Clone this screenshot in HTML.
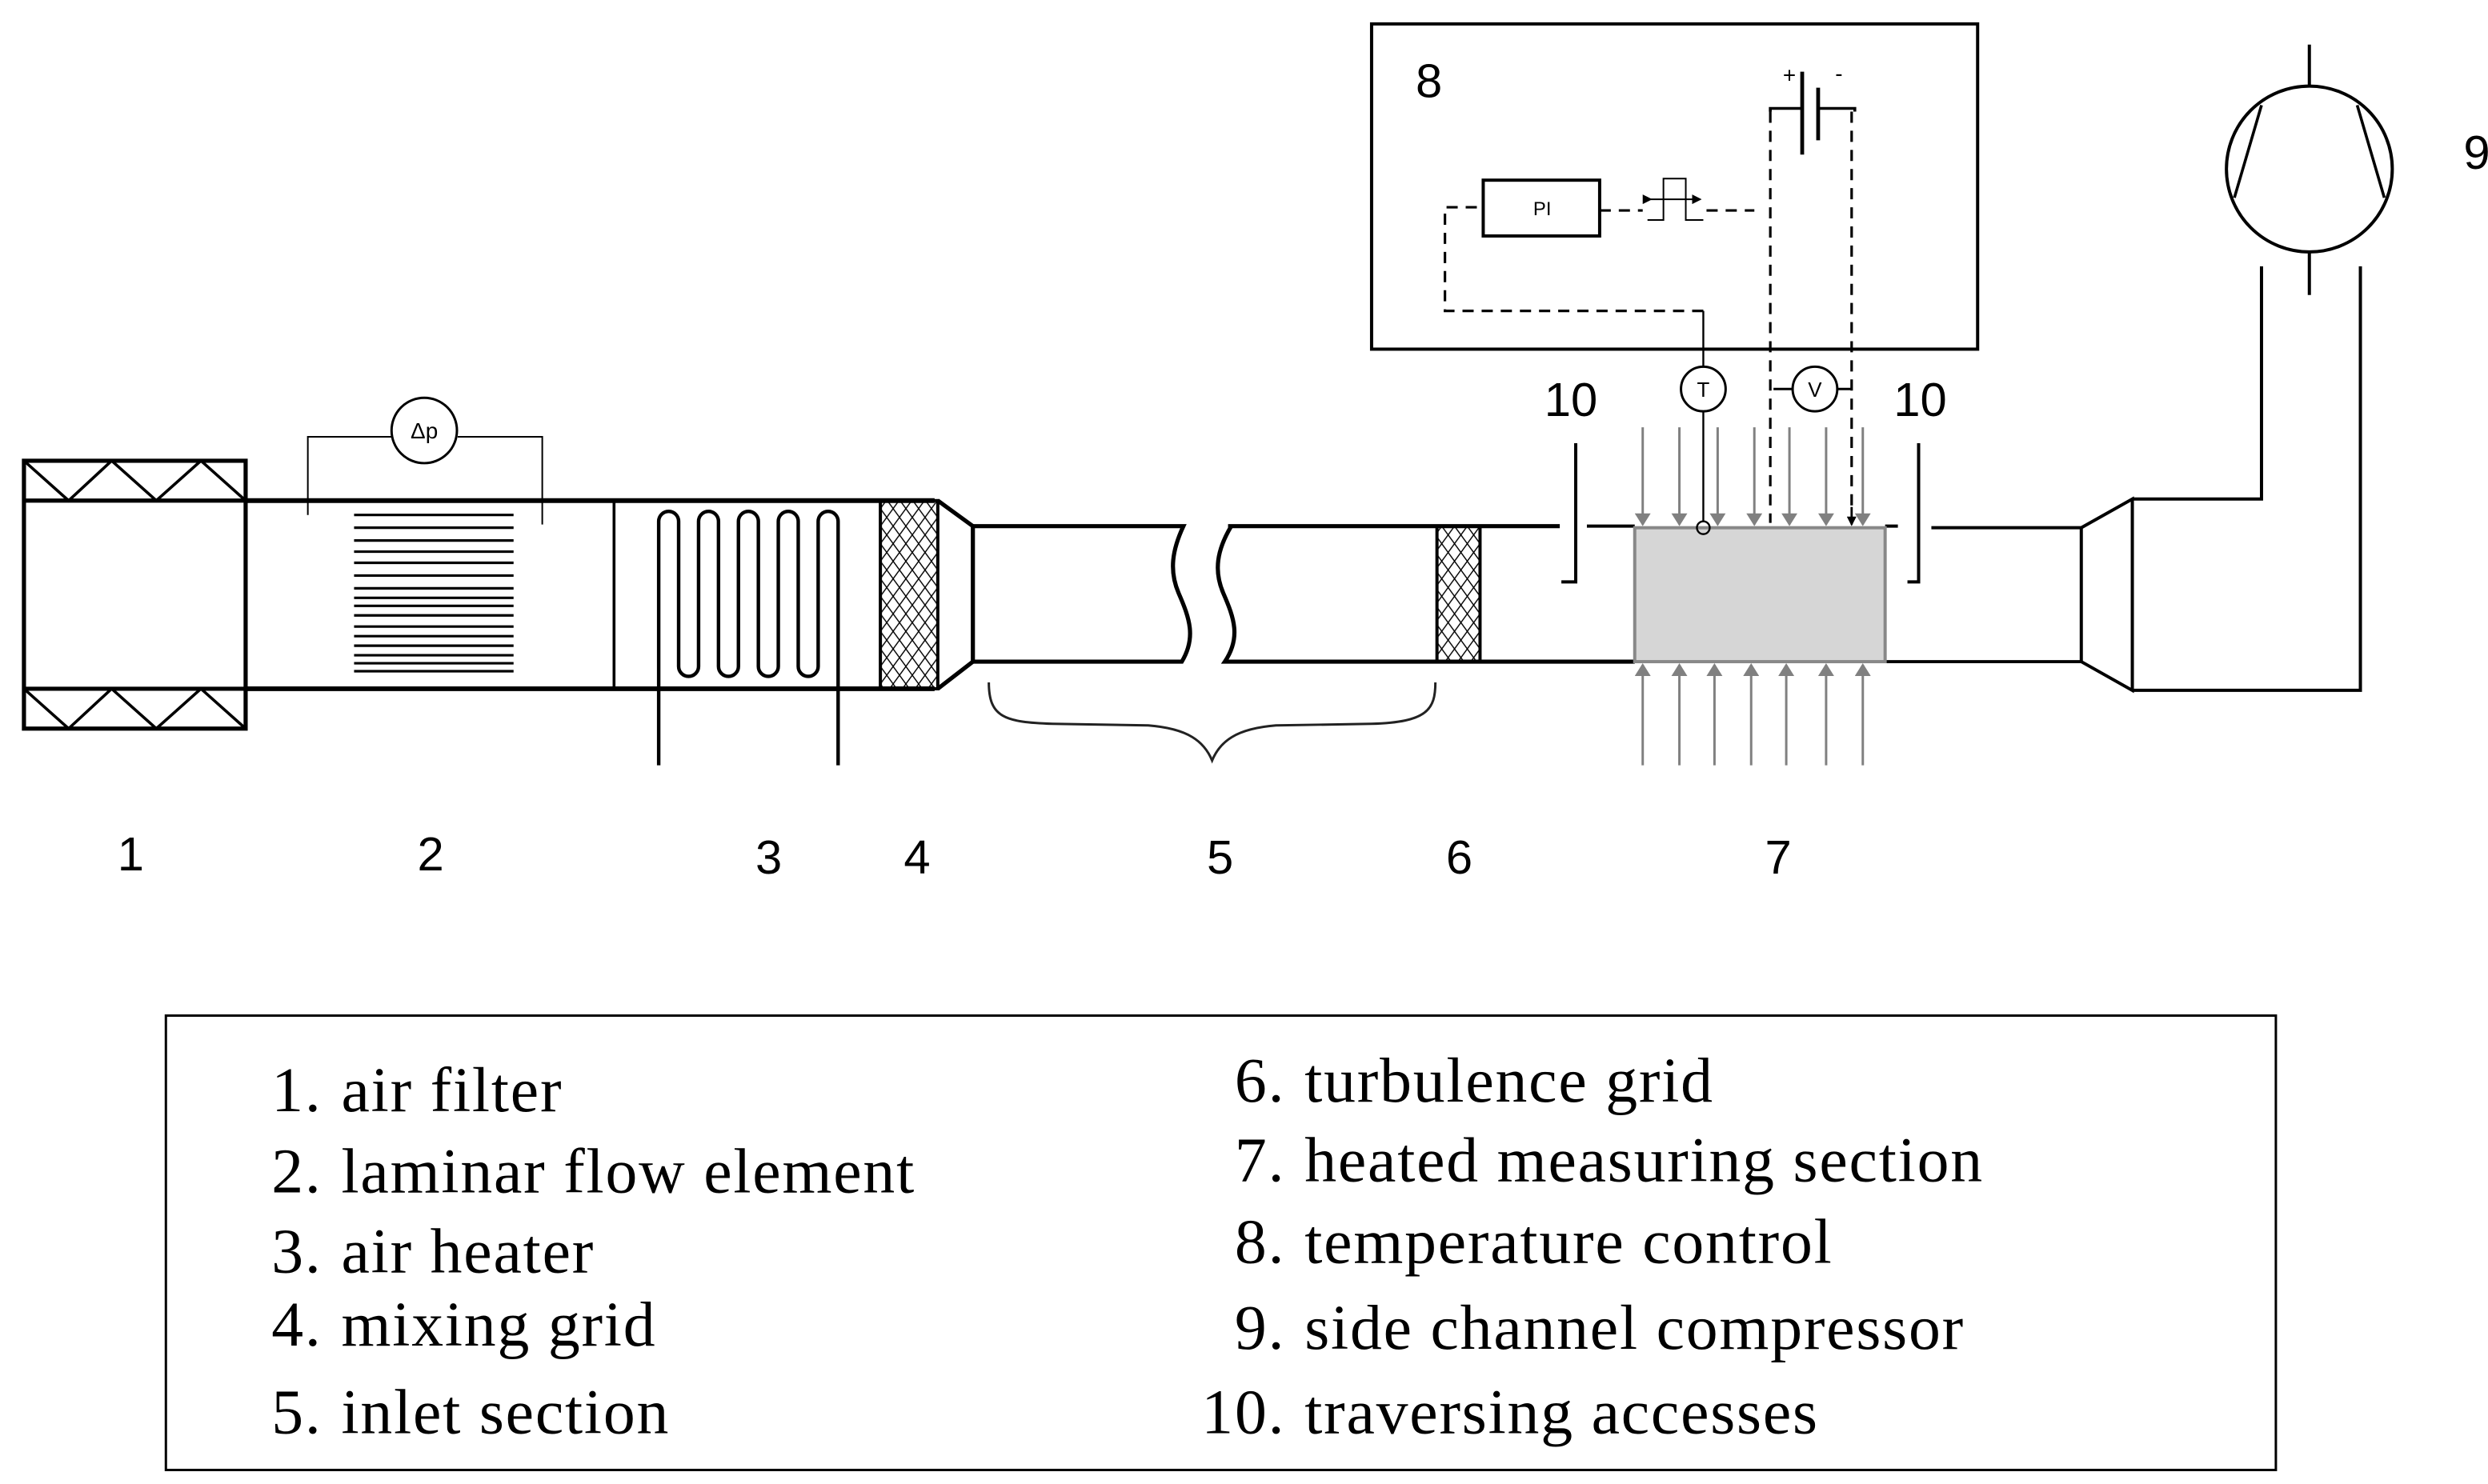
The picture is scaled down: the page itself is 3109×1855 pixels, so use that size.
<!DOCTYPE html>
<html><head><meta charset="utf-8"><style>
html,body{margin:0;padding:0;background:#fff;}
svg{display:block;}
</style></head><body>
<svg width="3109" height="1855" viewBox="0 0 1560 930.8" xmlns="http://www.w3.org/2000/svg">
<defs>
<pattern id="hx" width="8" height="11" patternUnits="userSpaceOnUse">
<path d="M0,0 L8,11 M8,0 L0,11" stroke="#000" stroke-width="0.7"/>
</pattern>
<marker id="ah" markerWidth="8" markerHeight="10" refX="7" refY="5" orient="auto" markerUnits="userSpaceOnUse">
<path d="M0,0 L8,5 L0,10 z" fill="#808080"/>
</marker>
<marker id="bh" markerWidth="6" markerHeight="6" refX="5" refY="3" orient="auto" markerUnits="userSpaceOnUse">
<path d="M0,0 L6,3 L0,6 z" fill="#000"/>
</marker>
</defs>
<rect width="1560" height="931" fill="#fff"/>
<g fill="none" stroke="#000" stroke-width="2.6">
<rect x="15" y="289" width="139" height="168"/>
<line x1="15" y1="314" x2="154" y2="314"/>
<line x1="15" y1="432" x2="154" y2="432"/>
<polyline stroke-width="1.8" points="15,289 43,314 70,289 98,314 126,289 154,314"/>
<polyline stroke-width="1.8" points="15,432 43,457 70,432 98,457 126,432 154,457"/>
<line x1="154" y1="314" x2="586" y2="314" stroke-width="3"/>
<line x1="154" y1="432" x2="586" y2="432" stroke-width="3"/>
<line x1="385" y1="314" x2="385" y2="432" stroke-width="1.8"/>
<rect x="552" y="314" width="36" height="118" fill="url(#hx)" stroke-width="2"/>
<polyline points="588,314 610,330 610,415 588,432"/>
<path d="M610,330 H742 C735,345 733,358 739,372 C746,388 750,400 741,415 H610"/>
<path d="M772,330 C763,345 761,358 767,372 C774,388 778,400 768,415 H1025"/>
<line x1="770" y1="330" x2="978" y2="330"/>
<rect x="901" y="330" width="27" height="85" fill="url(#hx)" stroke-width="2"/>
<path d="M988,278 V365 H979" stroke-width="2"/>
<line x1="995" y1="330" x2="1025" y2="330" stroke-width="2"/>
<path d="M1203,278 V365 H1196" stroke-width="2"/>
<line x1="1182" y1="330" x2="1190" y2="330" stroke-width="2"/>
<line x1="1211" y1="331" x2="1305" y2="331" stroke-width="2"/>
<line x1="1182" y1="415" x2="1305" y2="415" stroke-width="2"/>
<polyline points="1305,331 1305,415" stroke-width="2"/>
<polyline points="1305,331 1337,313 1337,433 1305,415" stroke-width="2"/>
<polyline points="1337,313 1418,313 1418,167" stroke-width="2"/>
<polyline points="1337,433 1480,433 1480,167" stroke-width="2"/>
<ellipse cx="1448" cy="106" rx="52" ry="52" stroke-width="2"/>
<line x1="1448" y1="28" x2="1448" y2="54" stroke-width="2"/>
<line x1="1448" y1="158" x2="1448" y2="185" stroke-width="2"/>
<line x1="1418" y1="66" x2="1401" y2="124" stroke-width="1.8"/>
<line x1="1478" y1="66" x2="1495" y2="124" stroke-width="1.8"/>
<rect x="860" y="15" width="380" height="204" stroke-width="2"/>
</g>
<g stroke="#000" stroke-width="1.6">
<line x1="222" y1="323" x2="322" y2="323"/><line x1="222" y1="331" x2="322" y2="331"/>
<line x1="222" y1="339" x2="322" y2="339"/><line x1="222" y1="346" x2="322" y2="346"/>
<line x1="222" y1="353" x2="322" y2="353"/><line x1="222" y1="361" x2="322" y2="361"/>
<line x1="222" y1="369" x2="322" y2="369"/><line x1="222" y1="375" x2="322" y2="375"/>
<line x1="222" y1="380" x2="322" y2="380"/><line x1="222" y1="386" x2="322" y2="386"/>
<line x1="222" y1="393" x2="322" y2="393"/><line x1="222" y1="399" x2="322" y2="399"/>
<line x1="222" y1="405" x2="322" y2="405"/><line x1="222" y1="411" x2="322" y2="411"/>
<line x1="222" y1="416" x2="322" y2="416"/><line x1="222" y1="421" x2="322" y2="421"/>
</g>
<g fill="none" stroke="#000" stroke-width="1">
<polyline points="193,323 193,274 246,274"/>
<polyline points="287,274 340,274 340,329"/>
<circle cx="266" cy="270" r="20.5" stroke-width="1.5"/>
</g>
<text x="266" y="275" font-family="Liberation Sans, sans-serif" font-size="14" text-anchor="middle">Δp</text>
<path fill="none" stroke="#000" stroke-width="2.2" d="M413,480 V327 A6.25,6.25 0 0 1 425.5,327 V418 A6.25,6.25 0 0 0 438,418 V327 A6.25,6.25 0 0 1 450.5,327 V418 A6.25,6.25 0 0 0 463,418 V327 A6.25,6.25 0 0 1 475.5,327 V418 A6.25,6.25 0 0 0 488,418 V327 A6.25,6.25 0 0 1 500.5,327 V418 A6.25,6.25 0 0 0 513,418 V327 A6.25,6.25 0 0 1 525.5,327 V480"/>
<path fill="none" stroke="#222" stroke-width="1.5" d="M620,428 C620,450 630,453 660,454 L720,455 C745,457 755,465 760,477 C765,465 775,457 800,455 L860,454 C895,453 900,445 900,428"/>
<rect x="1025" y="331" width="157" height="84" fill="#d6d6d6" stroke="#888" stroke-width="2"/>
<g stroke="#808080" stroke-width="1.5" marker-end="url(#ah)">
<line x1="1030" y1="268" x2="1030" y2="329"/><line x1="1053" y1="268" x2="1053" y2="329"/>
<line x1="1077" y1="268" x2="1077" y2="329"/><line x1="1100" y1="268" x2="1100" y2="329"/>
<line x1="1122" y1="268" x2="1122" y2="329"/><line x1="1145" y1="268" x2="1145" y2="329"/>
<line x1="1168" y1="268" x2="1168" y2="329"/>
<line x1="1030" y1="480" x2="1030" y2="417"/><line x1="1053" y1="480" x2="1053" y2="417"/>
<line x1="1075" y1="480" x2="1075" y2="417"/><line x1="1098" y1="480" x2="1098" y2="417"/>
<line x1="1120" y1="480" x2="1120" y2="417"/><line x1="1145" y1="480" x2="1145" y2="417"/>
<line x1="1168" y1="480" x2="1168" y2="417"/>
</g>
<g fill="none" stroke="#000" stroke-width="1.2">
<line x1="1068" y1="195" x2="1068" y2="230"/>
<line x1="1068" y1="258" x2="1068" y2="327"/>
<circle cx="1068" cy="331" r="4"/>
<circle cx="1068" cy="244" r="14" stroke-width="1.5"/>
<circle cx="1138" cy="244" r="14" stroke-width="1.5"/>
<line x1="1112" y1="244" x2="1124" y2="244" stroke-width="1.5"/>
<line x1="1152" y1="244" x2="1161" y2="244" stroke-width="1.5"/>
</g>
<g fill="none" stroke="#000" stroke-width="1.6" stroke-dasharray="7,5">
<polyline points="1068,195 906,195 906,130 930,130"/>
<line x1="1003" y1="132" x2="1030" y2="132"/>
<line x1="1070" y1="132" x2="1100" y2="132"/>
<line x1="1110" y1="70" x2="1110" y2="328"/>
<line x1="1161" y1="70" x2="1161" y2="318"/>
</g>
<path fill="none" stroke="#000" stroke-width="1.8" d="M1110,70 V68 H1130 M1140,68 H1163 V70"/>
<line x1="1130" y1="45" x2="1130" y2="97" stroke="#000" stroke-width="2.4"/>
<line x1="1140" y1="55" x2="1140" y2="88" stroke="#000" stroke-width="2.4"/>
<path d="M1161,318 V329" stroke="#000" stroke-width="1.4" marker-end="url(#bh)"/>
<text x="1122" y="52" font-family="Liberation Sans, sans-serif" font-size="14" text-anchor="middle">+</text>
<text x="1153" y="51" font-family="Liberation Sans, sans-serif" font-size="14" text-anchor="middle">-</text>
<rect x="930" y="113" width="73" height="35" fill="#fff" stroke="#000" stroke-width="2"/>
<text x="967" y="135" font-family="Liberation Sans, sans-serif" font-size="12" text-anchor="middle">PI</text>
<polyline fill="none" stroke="#000" stroke-width="1" points="1033,138 1043,138 1043,112 1057,112 1057,138 1068,138"/>
<line x1="1035" y1="125" x2="1066" y2="125" stroke="#000" stroke-width="1" marker-start="url(#bh)" marker-end="url(#bh)"/>
<text x="1068" y="249" font-family="Liberation Sans, sans-serif" font-size="13" text-anchor="middle">T</text>
<text x="1138" y="249" font-family="Liberation Sans, sans-serif" font-size="13" text-anchor="middle">V</text>
<g font-family="Liberation Sans, sans-serif" font-size="30" text-anchor="middle" fill="#000">
<text x="896" y="61">8</text>
<text x="1553" y="106">9</text>
<text x="985" y="261">10</text>
<text x="1204" y="261">10</text>
<text x="82" y="546">1</text>
<text x="270" y="546">2</text>
<text x="482" y="548">3</text>
<text x="575" y="548">4</text>
<text x="765" y="548">5</text>
<text x="915" y="548">6</text>
<text x="1115" y="548">7</text>
</g>
<rect x="104" y="637" width="1323" height="285" fill="none" stroke="#000" stroke-width="1.5"/>
<g font-family="Liberation Serif, serif" font-size="40" fill="#000" letter-spacing="0.9">
<g text-anchor="end">
<text x="202" y="697">1.</text><text x="202" y="748">2.</text><text x="202" y="798">3.</text>
<text x="202" y="844">4.</text><text x="202" y="899">5.</text>
<text x="806" y="691">6.</text><text x="806" y="741">7.</text><text x="806" y="792">8.</text>
<text x="806" y="846">9.</text><text x="806" y="899">10.</text>
</g>
<text x="214" y="697">air filter</text>
<text x="214" y="748">laminar flow element</text>
<text x="214" y="798">air heater</text>
<text x="214" y="844">mixing grid</text>
<text x="214" y="899">inlet section</text>
<text x="818" y="691">turbulence grid</text>
<text x="818" y="741">heated measuring section</text>
<text x="818" y="792">temperature control</text>
<text x="818" y="846">side channel compressor</text>
<text x="818" y="899">traversing accesses</text>
</g>
</svg>
</body></html>
